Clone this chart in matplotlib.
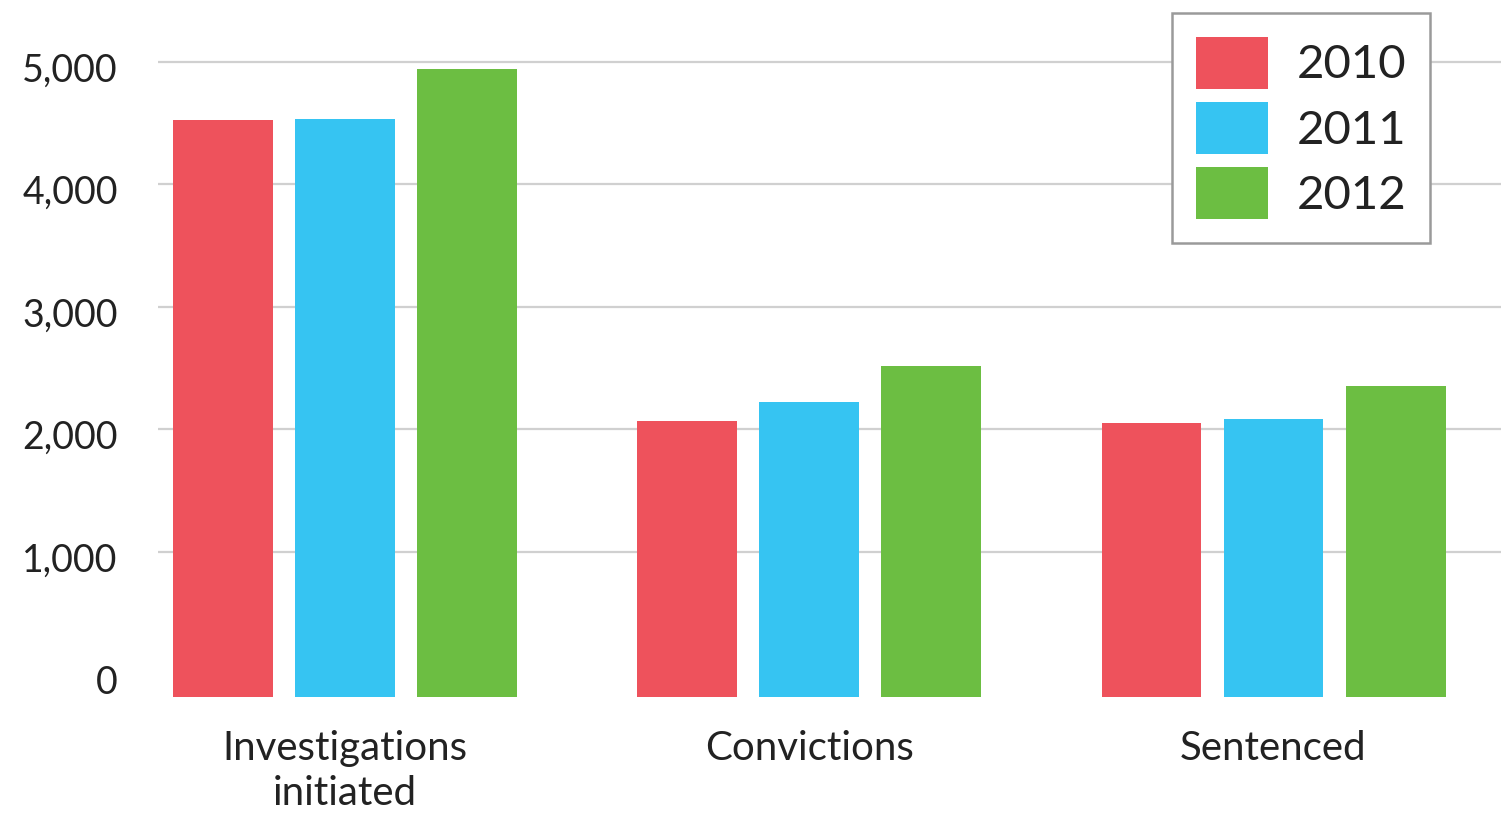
import matplotlib
matplotlib.use("Agg")
import matplotlib.pyplot as plt
import matplotlib.transforms as mtransforms
import numpy as np

categories = ["Investigations\ninitiated", "Convictions", "Sentenced"]
years = ["2010", "2011", "2012"]
values_2010 = [4530, 2070, 2055]
values_2011 = [4535, 2225, 2085]
values_2012 = [4945, 2515, 2355]
y_ticks = [0, 1000, 2000, 3000, 4000, 5000]
y_tick_labels = ["0", "1,000", "2,000", "3,000", "4,000", "5,000"]

series = [values_2010, values_2011, values_2012]
colors = ["#EE525C", "#36C4F2", "#6CBE42"]

plt.rcParams["font.family"] = ["Lato", "DejaVu Sans"]

# bars run a little past the zero line at their foot
BAR_FOOT = 184

fig = plt.figure(figsize=(15.01, 8.14), dpi=100)
ax = fig.add_axes([158 / 1501, 1 - 697 / 814, 1 - 158 / 1501, 697 / 814])

x = np.arange(len(categories))
width = 0.215
step = 0.263
for i, (vals, col, yr) in enumerate(zip(series, colors, years)):
    vals = np.asarray(vals, dtype=float)
    ax.bar(x + (i - 1) * step, vals + BAR_FOOT, bottom=-BAR_FOOT,
           width=width, color=col, label=yr, zorder=3)

ax.set_ylim(-BAR_FOOT, 5506)
ax.set_xlim(-0.403, 2.49)

ax.set_yticks(y_ticks)
ax.set_yticklabels(y_tick_labels, fontsize=27, color="#222222")
ax.set_xticks(x)
ax.set_xticklabels(categories, fontsize=29, color="#222222", linespacing=1.27)
ax.tick_params(axis="both", length=0)
ax.tick_params(axis="y", pad=29)
ax.tick_params(axis="x", pad=24)

# value labels sit slightly below their grid lines
shift = mtransforms.ScaledTranslation(0, -5 / 100, fig.dpi_scale_trans)
for lbl in ax.get_yticklabels():
    lbl.set_transform(lbl.get_transform() + shift)

for t in y_ticks[1:]:
    ax.axhline(t, color="#d0d0d0", linewidth=1.6, zorder=1)

for s in ax.spines.values():
    s.set_visible(False)

leg = ax.legend(loc="upper right", bbox_to_anchor=(1430 / 1501, 1 - 13 / 814),
                bbox_transform=fig.transFigure, borderaxespad=0,
                fontsize=34, handlelength=1.53, handleheight=1.32,
                labelspacing=0.28, handletextpad=0.6, borderpad=0.5,
                fancybox=False, framealpha=1, edgecolor="#9a9a9a")
leg.get_frame().set_linewidth(1.8)
for txt in leg.get_texts():
    txt.set_color("#222222")

fig.savefig("out.png", dpi=100)
